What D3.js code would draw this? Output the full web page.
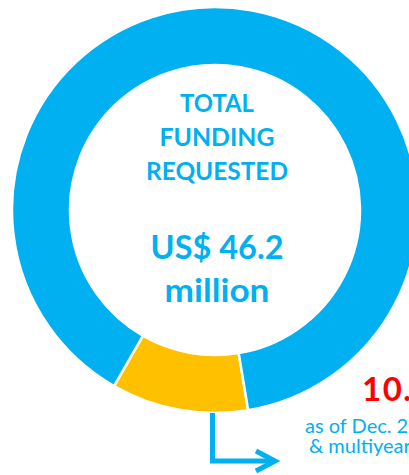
<!DOCTYPE html>
<html>
<head>
<meta charset="utf-8">
<script src="https://cdn.jsdelivr.net/npm/d3@7"></script>
<style>
  html, body { margin: 0; padding: 0; background: #fff; overflow: hidden; }
  svg { display: block; }
</style>
</head>
<body>
<svg id="chart" width="409" height="475"></svg>
<script>
// Data (percent of total requirement)
const segments = ["Funded", "Unmet"];
const shares = [10.9, 89.1];
const colors = ["#FFC000", "#00B0F0"];
const titleLines = ["TOTAL", "FUNDING", "REQUESTED"];
const amountLines = ["US$ 46.2", "million"];
const fundedLabel = "10.9%";
const noteLines = ["as of Dec. 2017", "& multiyear funds"];

const svg = d3.select("#chart");
const W = 409, H = 475;
const cx = 215, cy = 210, rOuter = 203, rInner = 145;
const blue = "#00B0F0";

const startDeg = 170.6;
const pie = d3.pie().sort(null)
  .startAngle(startDeg * Math.PI / 180)
  .endAngle(startDeg * Math.PI / 180 + 2 * Math.PI);
const arc = d3.arc().innerRadius(rInner).outerRadius(rOuter);

const g = svg.append("g").attr("transform", `translate(${cx},${cy})`);
g.selectAll("path")
  .data(pie(shares))
  .join("path")
  .attr("d", arc)
  .attr("fill", (d, i) => colors[i])
  .attr("stroke", "#fff")
  .attr("stroke-width", 2.5)
  .attr("stroke-linejoin", "miter");

const font = "Lato, 'Open Sans', sans-serif";
const tx = 217;

// title lines
const titleY = [112, 146, 180];
const titleW = [74, 115, 142];
titleLines.forEach((t, i) => {
  svg.append("text")
    .attr("x", tx).attr("y", titleY[i])
    .attr("text-anchor", "middle")
    .attr("font-family", font).attr("font-weight", 700)
    .attr("font-size", 25.5)
    .attr("fill", blue)
    .attr("textLength", titleW[i]).attr("lengthAdjust", "spacingAndGlyphs")
    .text(t);
});

const amtY = [259, 302];
const amtW = [133, 105];
amountLines.forEach((t, i) => {
  svg.append("text")
    .attr("x", tx).attr("y", amtY[i])
    .attr("text-anchor", "middle")
    .attr("font-family", font).attr("font-weight", 700)
    .attr("font-size", 32)
    .attr("fill", blue)
    .attr("textLength", amtW[i]).attr("lengthAdjust", "spacingAndGlyphs")
    .text(t);
});

// arrow
const arrow = svg.append("g")
  .attr("fill", "none").attr("stroke", blue)
  .attr("stroke-width", 5);
arrow.append("path")
  .attr("d", d3.line()([[212.5, 413], [212.5, 461], [275, 461]]))
  .attr("stroke-linejoin", "miter");
arrow.append("path")
  .attr("d", d3.line()([[256, 451], [275, 461], [256, 471]]))
  .attr("stroke-linejoin", "miter");

// red funded label
svg.append("text")
  .attr("x", 362).attr("y", 401)
  .attr("font-family", font).attr("font-weight", 700)
  .attr("font-size", 33)
  .attr("letter-spacing", 1.5)
  .attr("fill", "#FF0000")
  .text(fundedLabel);

const noteX = [305, 309];
const noteY = [433, 453];
noteLines.forEach((t, i) => {
  svg.append("text")
    .attr("x", noteX[i]).attr("y", noteY[i])
    .attr("font-family", font).attr("font-weight", 400)
    .attr("font-size", 20)
    .attr("fill", blue)
    .text(t);
});
</script>
</body>
</html>
